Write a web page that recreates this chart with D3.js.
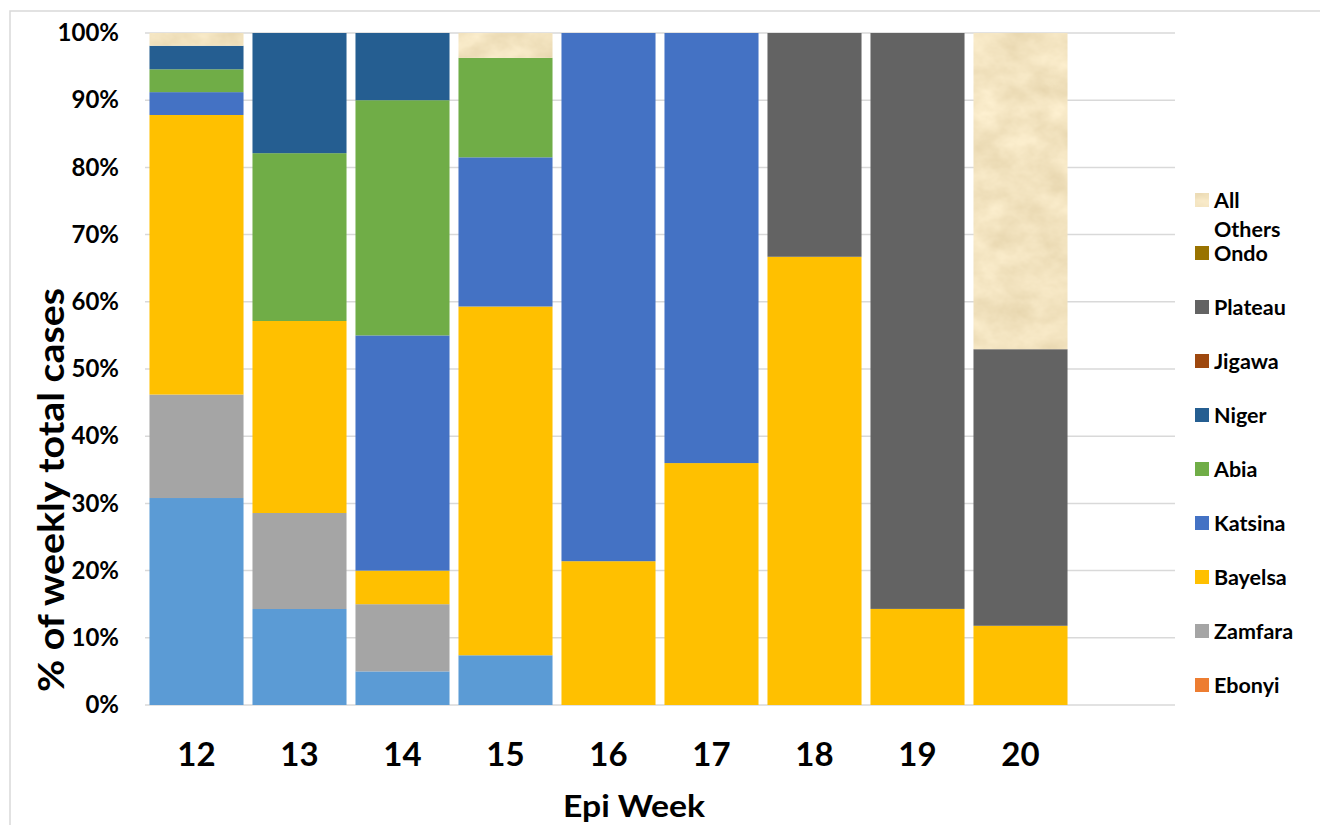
<!DOCTYPE html>
<html>
<head>
<meta charset="utf-8">
<script src="https://cdn.jsdelivr.net/npm/d3@7"></script>
<style>
  html, body { margin: 0; padding: 0; background: #fff; }
  svg { display: block; font-family: "Lato", "Open Sans", sans-serif; font-weight: 700; }
</style>
</head>
<body>
<svg id="chart" width="1320" height="825"></svg>
<script>
// Epi weeks (the last slot is left empty)
const weeks = ["12", "13", "14", "15", "16", "17", "18", "19", "20", ""];

// Share of weekly cases by state, in percent, bottom of stack first
const series1   = [30.8, 14.3,  5.0,  7.4,  0.0,  0.0,  0.0,  0.0,  0.0, 0];
const ebonyi    = [ 0.0,  0.0,  0.0,  0.0,  0.0,  0.0,  0.0,  0.0,  0.0, 0];
const zamfara   = [15.4, 14.3, 10.0,  0.0,  0.0,  0.0,  0.0,  0.0,  0.0, 0];
const bayelsa   = [41.6, 28.6,  5.0, 51.9, 21.4, 36.0, 66.7, 14.3, 11.8, 0];
const katsina   = [ 3.4,  0.0, 35.0, 22.2, 78.6, 64.0,  0.0,  0.0,  0.0, 0];
const abia      = [ 3.4, 25.0, 35.0, 14.8,  0.0,  0.0,  0.0,  0.0,  0.0, 0];
const niger     = [ 3.5, 17.9, 10.0,  0.0,  0.0,  0.0,  0.0,  0.0,  0.0, 0];
const jigawa    = [ 0.0,  0.0,  0.0,  0.0,  0.0,  0.0,  0.0,  0.0,  0.0, 0];
const plateau   = [ 0.0,  0.0,  0.0,  0.0,  0.0,  0.0, 33.3, 85.7, 41.2, 0];
const ondo      = [ 0.0,  0.0,  0.0,  0.0,  0.0,  0.0,  0.0,  0.0,  0.0, 0];
const allOthers = [ 1.9,  0.0,  0.0,  3.7,  0.0,  0.0,  0.0,  0.0, 47.1, 0];

const seriesNames = ["Series1", "Ebonyi", "Zamfara", "Bayelsa", "Katsina", "Abia",
                     "Niger", "Jigawa", "Plateau", "Ondo", "All Others"];
const seriesValues = [series1, ebonyi, zamfara, bayelsa, katsina, abia,
                      niger, jigawa, plateau, ondo, allOthers];
const legendNames = ["All Others", "Ondo", "Plateau", "Jigawa", "Niger", "Abia",
                     "Katsina", "Bayelsa", "Zamfara", "Ebonyi"];
const yTicks = [0, 0.1, 0.2, 0.3, 0.4, 0.5, 0.6, 0.7, 0.8, 0.9, 1.0];

const colors = {
  "Series1": "#5B9BD5", "Ebonyi": "#ED7D31", "Zamfara": "#A5A5A5", "Bayelsa": "#FFC000",
  "Katsina": "#4472C4", "Abia": "#70AD47", "Niger": "#255E91", "Jigawa": "#9E480E",
  "Plateau": "#636363", "Ondo": "#997300", "All Others": "#F2E2BE"
};

const svg = d3.select("#chart");

// Parchment-like texture for "All Others"
const defs = svg.append("defs");
const tex = defs.append("filter").attr("id", "parchment")
  .attr("x", 0).attr("y", 0).attr("width", 1).attr("height", 1)
  .attr("color-interpolation-filters", "sRGB");
tex.append("feTurbulence").attr("type", "fractalNoise")
  .attr("baseFrequency", "0.03 0.04").attr("numOctaves", 4).attr("seed", 7).attr("result", "noise");
tex.append("feColorMatrix").attr("in", "noise").attr("type", "matrix")
  .attr("values", "0.12 0 0 0 0.89  0.14 0 0 0 0.82  0.18 0 0 0 0.66  0 0 0 0 1")
  .attr("result", "tone");
tex.append("feComposite").attr("in", "tone").attr("in2", "SourceGraphic").attr("operator", "in");

// Chart frame
svg.append("rect").attr("x", 10).attr("y", 11).attr("width", 1330).attr("height", 830)
  .attr("fill", "none").attr("stroke", "#d9d9d9").attr("stroke-width", 1.5);

const plot = { left: 145, right: 1175, top: 33, bottom: 705 };

const x = d3.scaleBand().domain(weeks).range([plot.left, plot.right])
  .paddingInner(0.087).paddingOuter(0.0435);
const y = d3.scaleLinear().domain([0, 1]).range([plot.bottom, plot.top]);

// Gridlines
svg.append("g").selectAll("line").data(yTicks).join("line")
  .attr("x1", plot.left).attr("x2", plot.right)
  .attr("y1", d => y(d)).attr("y2", d => y(d))
  .attr("stroke", "#d9d9d9").attr("stroke-width", 1.5);

// Stacked 100% bars
const rows = weeks.map((w, i) => {
  const r = { week: w };
  seriesNames.forEach((n, k) => { r[n] = seriesValues[k][i]; });
  return r;
});
const stacked = d3.stack().keys(seriesNames).offset(d3.stackOffsetExpand)(rows);

svg.append("g").selectAll("g").data(stacked).join("g")
  .each(function (s) {
    const g = d3.select(this);
    g.selectAll("rect").data(s.filter(d => d[1] - d[0] > 0)).join("rect")
      .attr("x", d => x(d.data.week))
      .attr("width", x.bandwidth())
      .attr("y", d => y(d[1]))
      .attr("height", d => y(d[0]) - y(d[1]))
      .attr("fill", colors[s.key])
      .attr("filter", s.key === "All Others" ? "url(#parchment)" : null);
  });

// Y axis tick labels
const yAxis = d3.axisLeft(y).tickValues(yTicks).tickFormat(d3.format(".0%")).tickSize(0).tickPadding(0);
svg.append("g").attr("transform", "translate(119,0)").call(yAxis)
  .call(g => g.select(".domain").remove())
  .selectAll("text")
  .attr("font-family", "Lato, sans-serif").attr("font-weight", 700)
  .attr("font-size", 24).attr("fill", "#000");

// X axis tick labels
const xAxis = d3.axisBottom(x).tickSize(0).tickPadding(0);
svg.append("g").attr("transform", "translate(0,743)").call(xAxis)
  .call(g => g.select(".domain").remove())
  .selectAll("text")
  .attr("dy", "0.71em")
  .attr("font-family", "Lato, sans-serif").attr("font-weight", 700)
  .attr("font-size", 33).attr("fill", "#000");

// Axis titles
svg.append("text")
  .attr("transform", "translate(64,490) rotate(-90)")
  .attr("text-anchor", "middle")
  .attr("font-size", 37).attr("fill", "#000")
  .attr("textLength", 404).attr("lengthAdjust", "spacingAndGlyphs")
  .text("% of weekly total cases");

svg.append("text")
  .attr("x", 634).attr("y", 817)
  .attr("text-anchor", "middle")
  .attr("font-size", 31).attr("fill", "#000")
  .attr("textLength", 142).attr("lengthAdjust", "spacingAndGlyphs")
  .text("Epi Week");

// Legend
const legendY = d => d === "All Others" ? 200 : 253 + 54 * (legendNames.indexOf(d) - 1);
const legend = svg.append("g").selectAll("g").data(legendNames).join("g")
  .attr("transform", d => `translate(1195,${legendY(d)})`);
legend.append("rect")
  .attr("x", 0).attr("y", -7).attr("width", 14).attr("height", 14)
  .attr("fill", d => colors[d])
  .attr("filter", d => d === "All Others" ? "url(#parchment)" : null);
legend.append("text")
  .attr("x", 19).attr("font-size", 21.5).attr("fill", "#000")
  .each(function (d) {
    const parts = d === "All Others" ? ["All", "Others"] : [d];
    d3.select(this).selectAll("tspan").data(parts).join("tspan")
      .attr("x", 19).attr("dy", (p, i) => i === 0 ? "0.35em" : "1.35em")
      .text(p => p);
  });
</script>
</body>
</html>
